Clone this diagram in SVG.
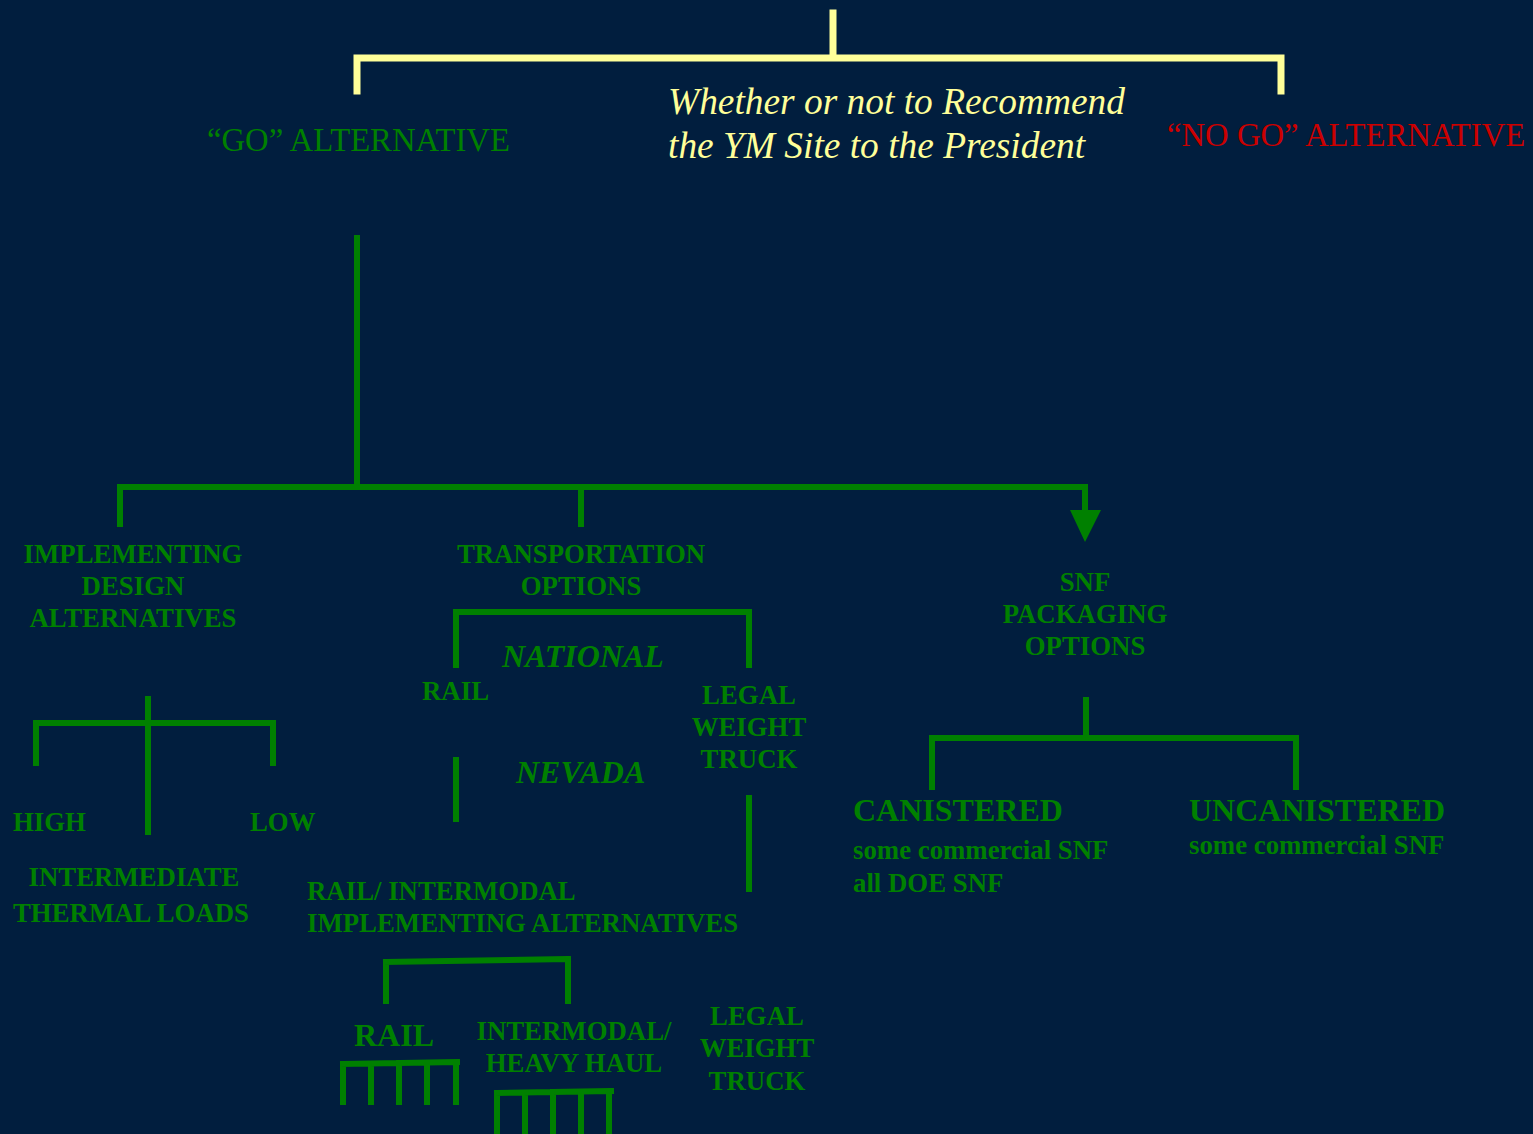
<svg xmlns="http://www.w3.org/2000/svg" width="1533" height="1134" viewBox="0 0 1533 1134">
<style>
.y{stroke:#FFFF99;stroke-width:7;fill:none;stroke-linecap:square}
.g{stroke:#008000;stroke-width:6;fill:none;stroke-linecap:square}
.t{font-family:"Liberation Serif","Times New Roman",serif;fill:#008000;font-weight:bold;font-size:26.8px}
.c{text-anchor:middle}
.bi{font-style:italic;font-size:32px}
.big{font-size:32px}
.head{font-family:"Liberation Serif","Times New Roman",serif;font-style:italic;fill:#FFFF99;font-size:37.4px}
.alt{font-family:"Liberation Serif","Times New Roman",serif;font-size:32.7px}
</style>
<rect width="1533" height="1134" fill="#011E3E"/>
<g id="connectors">
<path class="y" d="M833,13 V56 M357,58 H1281 M357,58 V91 M1281,58 V91"/>
<path class="g" d="M357,238 V487 M120,487 H1085 M120,487 V524 M581,487 V524 M1085,487 V512"/>
<polygon points="1070,510 1101,510 1085,542" fill="#008000"/>
<path class="g" d="M456,612 H749 M456,612 V665 M749,612 V665 M456,760 V819 M749,798 V889"/>
<path class="g" d="M148,699 V832 M36,723 H273 M36,723 V763 M273,723 V763"/>
<path class="g" d="M386,962 L568,959 M386,962 V1001 M568,960 V1001"/>
<path class="g" d="M343,1064 L457,1062 M343,1064 V1102 M371,1064 V1102 M399,1063 V1102 M427,1063 V1102 M456,1063 V1102"/>
<path class="g" d="M497,1093 L611,1091 M497,1093 V1134 M525,1093 V1134 M553,1092 V1134 M581,1092 V1134 M609,1092 V1134"/>
<path class="g" d="M1086,700 V738 M932,738 H1296 M932,738 V787 M1296,738 V787"/>
</g>
<g id="question">
<text class="head" x="668" y="114">Whether or not to Recommend</text>
<text class="head" x="668" y="158">the YM Site to the President</text>
</g>
<g id="go"><text class="alt" x="207" y="151" fill="#008000">“GO” ALTERNATIVE</text></g>
<g id="nogo"><text class="alt" x="1167" y="146" fill="#CC0000">“NO GO” ALTERNATIVE</text></g>
<g id="implementing">
<text class="t c" x="133" y="563">IMPLEMENTING</text>
<text class="t c" x="133" y="595">DESIGN</text>
<text class="t c" x="133" y="627">ALTERNATIVES</text>
</g>
<g id="transport">
<text class="t c" x="581" y="563">TRANSPORTATION</text>
<text class="t c" x="581" y="595">OPTIONS</text>
</g>
<g id="snf">
<text class="t c" x="1085" y="591">SNF</text>
<text class="t c" x="1085" y="623">PACKAGING</text>
<text class="t c" x="1085" y="655">OPTIONS</text>
</g>
<g id="national"><text class="t bi" x="502" y="667">NATIONAL</text></g>
<g id="rail1"><text class="t" x="422" y="700">RAIL</text></g>
<g id="lwt1">
<text class="t c" x="749" y="704">LEGAL</text>
<text class="t c" x="749" y="736">WEIGHT</text>
<text class="t c" x="749" y="768">TRUCK</text>
</g>
<g id="nevada"><text class="t bi" x="516" y="783">NEVADA</text></g>
<g id="railinter">
<text class="t" x="307" y="900">RAIL/ INTERMODAL</text>
<text class="t" x="307" y="932">IMPLEMENTING ALTERNATIVES</text>
</g>
<g id="high"><text class="t" x="13" y="831">HIGH</text></g>
<g id="low"><text class="t" x="250" y="831">LOW</text></g>
<g id="inter">
<text class="t c" x="134" y="886">INTERMEDIATE</text>
<text class="t" x="13" y="922">THERMAL LOADS</text>
</g>
<g id="rail2"><text class="t big" x="354" y="1046">RAIL</text></g>
<g id="heavy">
<text class="t c" x="574" y="1040">INTERMODAL/</text>
<text class="t c" x="574" y="1072">HEAVY HAUL</text>
</g>
<g id="lwt2">
<text class="t c" x="757" y="1025">LEGAL</text>
<text class="t c" x="757" y="1057">WEIGHT</text>
<text class="t c" x="757" y="1090">TRUCK</text>
</g>
<g id="canistered">
<text class="t big" x="853" y="821">CANISTERED</text>
<text class="t" x="853" y="859">some commercial SNF</text>
<text class="t" x="853" y="892">all DOE SNF</text>
</g>
<g id="uncanistered">
<text class="t big" x="1189" y="821">UNCANISTERED</text>
<text class="t" x="1189" y="854">some commercial SNF</text>
</g>
</svg>
